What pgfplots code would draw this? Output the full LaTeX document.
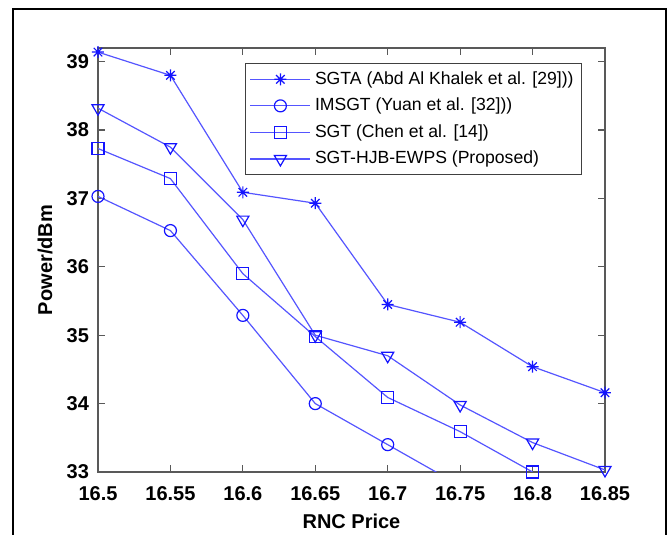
\documentclass[border=0pt]{standalone}
\usepackage{pgfplots}
\pgfplotsset{compat=1.18}
\usepackage{fontspec}
\setmainfont{Liberation Sans}

\definecolor{lblue}{RGB}{85,85,255}
\definecolor{mblue}{RGB}{20,20,255}

% MATLAB-style '*' marker: a plus and a cross
\pgfdeclareplotmark{mstar}{%
  \pgfpathmoveto{\pgfqpoint{-\pgfplotmarksize}{0pt}}%
  \pgfpathlineto{\pgfqpoint{\pgfplotmarksize}{0pt}}%
  \pgfpathmoveto{\pgfqpoint{0pt}{-\pgfplotmarksize}}%
  \pgfpathlineto{\pgfqpoint{0pt}{\pgfplotmarksize}}%
  \pgfpathmoveto{\pgfqpoint{-0.707\pgfplotmarksize}{-0.707\pgfplotmarksize}}%
  \pgfpathlineto{\pgfqpoint{0.707\pgfplotmarksize}{0.707\pgfplotmarksize}}%
  \pgfpathmoveto{\pgfqpoint{-0.707\pgfplotmarksize}{0.707\pgfplotmarksize}}%
  \pgfpathlineto{\pgfqpoint{0.707\pgfplotmarksize}{-0.707\pgfplotmarksize}}%
  \pgfusepathqstroke}

\begin{document}
\begin{tikzpicture}
\useasboundingbox (-49pt,-31.5pt) rectangle (286.5pt,236pt);
\draw[line width=0.75pt] (-42.5pt,-60pt) rectangle (284pt,231.5pt);
\begin{axis}[
    at={(0pt,0pt)}, anchor=south west,
    scale only axis,
    width=253.5pt, height=212pt,
    xmin=16.5, xmax=16.85,
    ymin=33, ymax=39.2,
    xtick={16.5,16.55,16.6,16.65,16.7,16.75,16.8,16.85},
    xticklabels={16.5,16.55,16.6,16.65,16.7,16.75,16.8,16.85},
    ytick={33,34,35,36,37,38,39},
    tick align=inside,
    major tick length=3.5pt,
    axis line style={black!65, line width=0.6pt},
    tick style={black!65, line width=0.6pt},
    tick label style={font=\bfseries\fontsize{10}{12}\selectfont},
    xticklabel style={yshift=-3.5pt},
    yticklabel style={xshift=-1pt},
    /pgf/number format/assume math mode=true,
    xlabel={RNC Price},
    ylabel={Power/dBm},
    label style={font=\bfseries\fontsize{10}{12}\selectfont},
    xlabel style={at={(axis description cs:0.5,-0.1156)}, anchor=center},
    ylabel style={at={(axis description cs:-0.1045,0.5)}, anchor=center},
    legend style={at={(axis description cs:0.955,0.965)}, anchor=north east,
        draw=black!75, line width=0.6pt,
        font=\fontsize{8.8}{10}\selectfont,
        cells={anchor=west}, row sep=1.4pt, inner sep=2pt},
    legend image code/.code={
        \draw[mark repeat=2,mark phase=2,#1] plot coordinates {(0pt,0pt)(15pt,0pt)(30pt,0pt)};},
]
\addplot[lblue, line width=0.6pt, mark=mstar, mark size=3pt,
    mark options={mblue, solid}] coordinates {
    (16.5,39.14) (16.55,38.80) (16.6,37.09) (16.65,36.93)
    (16.7,35.45) (16.75,35.19) (16.8,34.54) (16.85,34.16)
};
\addplot[lblue, line width=0.6pt, mark=o, mark size=3pt,
    mark options={mblue, solid, fill=none}] coordinates {
    (16.5,37.03) (16.55,36.53) (16.6,35.29) (16.65,34.00)
    (16.7,33.40) (16.75,32.80)
};
\addplot[lblue, line width=0.6pt, mark=square, mark size=3pt,
    mark options={mblue, solid, fill=none}] coordinates {
    (16.5,37.73) (16.55,37.29) (16.6,35.90) (16.65,34.98)
    (16.7,34.09) (16.75,33.59) (16.8,33.00)
};
\addplot[lblue, line width=0.6pt, mark=triangle, mark size=3.5pt,
    mark options={mblue, solid, fill=none, rotate=180}] coordinates {
    (16.5,38.32) (16.55,37.75) (16.6,36.69) (16.65,35.00)
    (16.7,34.70) (16.75,33.98) (16.8,33.43) (16.85,33.03)
};
\legend{SGTA (Abd Al Khalek et al. [29])),
        IMSGT (Yuan et al. [32])),
        SGT (Chen et al. [14]),
        SGT-HJB-EWPS (Proposed)}
\end{axis}
\end{tikzpicture}
\end{document}
